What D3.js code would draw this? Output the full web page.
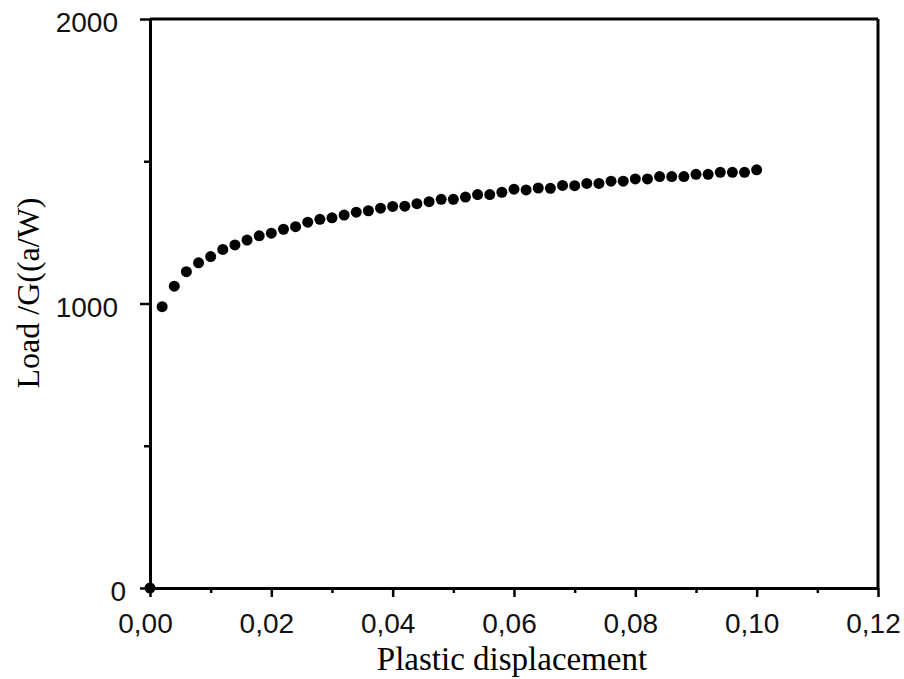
<!DOCTYPE html>
<html>
<head>
<meta charset="utf-8">
<script src="https://cdn.jsdelivr.net/npm/d3@7"></script>
<style>
  body { margin: 0; background: #fff; }
  .tick text { font-family: 'Liberation Sans', sans-serif; font-size: 28px; fill: #111; }
</style>
</head>
<body>
<div id="app"></div>
<script>
'use strict'

// plastic displacement (x) and normalised load (y)
const displacement = [
  0, 0.002, 0.004, 0.006, 0.008, 0.010, 0.012, 0.014, 0.016, 0.018, 0.020,
  0.022, 0.024, 0.026, 0.028, 0.030, 0.032, 0.034, 0.036, 0.038, 0.040,
  0.042, 0.044, 0.046, 0.048, 0.050, 0.052, 0.054, 0.056, 0.058, 0.060,
  0.062, 0.064, 0.066, 0.068, 0.070, 0.072, 0.074, 0.076, 0.078, 0.080,
  0.082, 0.084, 0.086, 0.088, 0.090, 0.092, 0.094, 0.096, 0.098, 0.100
]
const load = [
  0, 989, 1061, 1112, 1143, 1165, 1190, 1206, 1223, 1238, 1247,
  1261, 1270, 1286, 1296, 1301, 1311, 1321, 1326, 1335, 1341,
  1342, 1351, 1358, 1366, 1366, 1374, 1383, 1383, 1391, 1402,
  1399, 1406, 1405, 1415, 1414, 1422, 1422, 1430, 1430, 1438,
  1438, 1446, 1446, 1446, 1454, 1454, 1461, 1461, 1461, 1470
]
const xTicks = [0, 0.02, 0.04, 0.06, 0.08, 0.10, 0.12]
const xMinor = [0.01, 0.03, 0.05, 0.07, 0.09, 0.11]
const yTicks = [0, 1000, 2000]
const yMinor = [500, 1500]

const width = 904
const height = 679
const margin = { top: 19, right: 26, bottom: 91, left: 150 }
const w = width - margin.left - margin.right
const h = height - margin.top - margin.bottom

const svg = d3.select('#app').append('svg')
  .attr('width', width)
  .attr('height', height)

const g = svg.append('g')
  .attr('transform', `translate(${margin.left}, ${margin.top})`)

const x = d3.scaleLinear().domain([0, 0.12]).range([0, w])
const y = d3.scaleLinear().domain([0, 2000]).range([h, 0])

const fmt = d => d3.format('.2f')(d).replace('.', ',')

// minor ticks first, then the labelled axes
g.append('g')
  .attr('transform', `translate(0, ${h})`)
  .call(d3.axisBottom(x).tickValues(xMinor).tickSize(5).tickFormat(''))
  .call(a => a.select('.domain').remove())
  .call(a => a.selectAll('line').attr('stroke-width', 2.5))

g.append('g')
  .call(d3.axisLeft(y).tickValues(yMinor).tickSize(6).tickFormat(''))
  .call(a => a.select('.domain').remove())
  .call(a => a.selectAll('line').attr('stroke-width', 2.5))

const xAxis = g.append('g')
  .attr('transform', `translate(0, ${h})`)
  .call(d3.axisBottom(x).tickValues(xTicks).tickSize(9).tickSizeOuter(0).tickFormat(fmt))
xAxis.select('.domain').attr('stroke-width', 3)
xAxis.selectAll('line').attr('stroke-width', 2.5)
xAxis.selectAll('text').attr('dx', -5).attr('y', 25)

const yAxis = g.append('g')
  .call(d3.axisLeft(y).tickValues(yTicks).tickSize(10).tickSizeOuter(0).tickFormat(d3.format('d')))
yAxis.select('.domain').attr('stroke-width', 3)
yAxis.selectAll('line').attr('stroke-width', 2.5)
yAxis.selectAll('text').attr('x', -32).attr('dy', '0.45em')
yAxis.selectAll('.tick').filter(d => d === 0).select('text').attr('x', -24)

// frame: top and right edges
g.append('line')
  .attr('x1', x(0)).attr('x2', x(0.12))
  .attr('y1', y(2000)).attr('y2', y(2000))
  .attr('stroke', '#000').attr('stroke-width', 3)
g.append('line')
  .attr('x1', x(0.12)).attr('x2', x(0.12))
  .attr('y1', y(2000)).attr('y2', y(0))
  .attr('stroke', '#000').attr('stroke-width', 3)

// points
g.selectAll('.pt')
  .data(displacement.map((d, i) => [d, load[i]]))
  .enter().append('circle')
  .attr('class', 'pt')
  .attr('cx', d => x(d[0]))
  .attr('cy', d => y(d[1]))
  .attr('r', 5.5)
  .attr('fill', '#000')

// axis titles
svg.append('text')
  .attr('x', margin.left + w / 2 - 2)
  .attr('y', 670)
  .attr('text-anchor', 'middle')
  .style('font-family', "'Liberation Serif', serif")
  .style('font-size', '33px')
  .text('Plastic displacement')

svg.append('text')
  .attr('transform', 'translate(39, 293) rotate(-90)')
  .attr('text-anchor', 'middle')
  .style('font-family', "'Liberation Serif', serif")
  .style('font-size', '32px')
  .text('Load /G((a/W)')
</script>
</body>
</html>
